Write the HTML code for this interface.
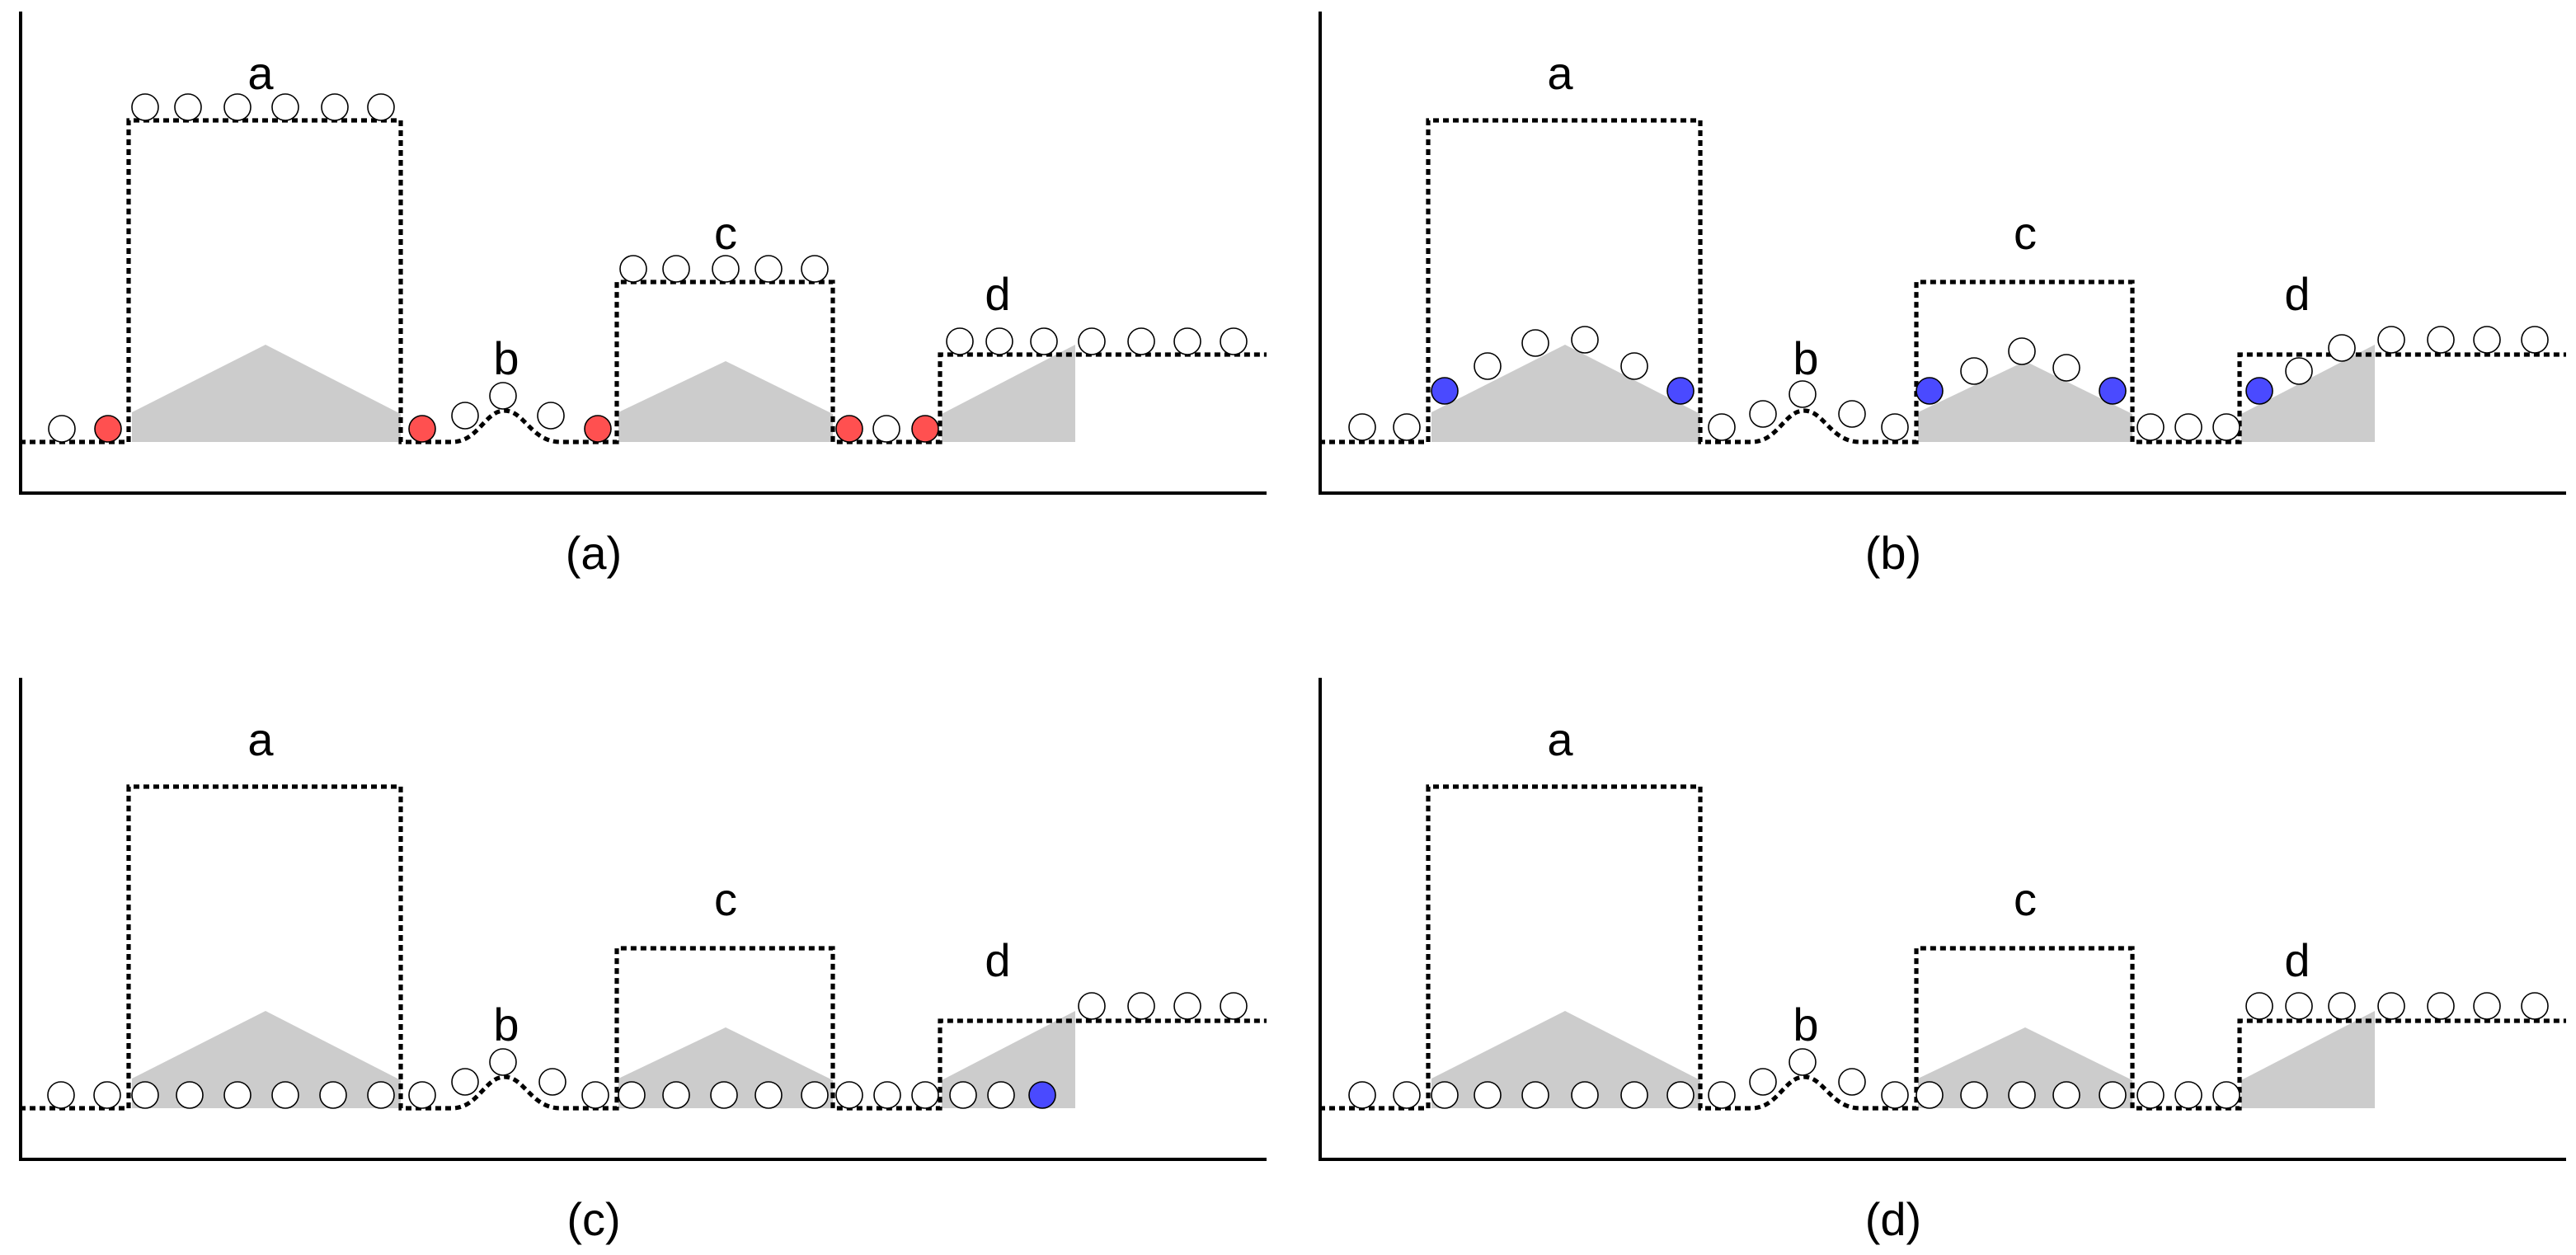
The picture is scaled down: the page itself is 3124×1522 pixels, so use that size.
<!DOCTYPE html>
<html><head><meta charset="utf-8"><style>html,body{margin:0;padding:0;background:#fff}svg{display:block}circle{stroke:#000;stroke-width:0.8}</style></head><body>
<svg width="3124" height="1522" viewBox="0 0 1562 761" xmlns="http://www.w3.org/2000/svg" font-family="Liberation Sans, sans-serif">
<defs>
<g id="base">
<path d="M80,268 L80,250 L161,209 L243,251 L243,268Z M375,268 L375,250 L440,219 L505,251 L505,268Z M571,268 L571,251 L652,209 L652,268Z" fill="#cccccc" stroke="none"/>
<path d="M12.5,7 V299 H768" fill="none" stroke="#000" stroke-width="2"/>
<path d="M12,268 H78 V73 H243 V268 H274 C290,268 294,249 306,249 C318,249 322,268 340,268 H374 V171 H505 V268 H570 V215 H768" fill="none" stroke="#000" stroke-width="2.6" stroke-dasharray="3.5,2.5"/>
<g font-size="28" text-anchor="middle" fill="#000" stroke="none">
<text x="158" y="54">a</text><text x="307" y="227">b</text><text x="440" y="151">c</text><text x="605" y="188">d</text>
</g>
</g>
</defs>
<g fill="#fff">
<g>
<use href="#base"/>
<circle cx="37.5" cy="260" r="8"/><circle cx="65.5" cy="260" r="8" fill="#ff5050"/>
<circle cx="256" cy="260" r="8" fill="#ff5050"/><circle cx="362.5" cy="260" r="8" fill="#ff5050"/>
<circle cx="515" cy="260" r="8" fill="#ff5050"/><circle cx="537.5" cy="260" r="8"/><circle cx="561" cy="260" r="8" fill="#ff5050"/>
<circle cx="282" cy="252" r="8"/><circle cx="305" cy="240" r="8"/><circle cx="334" cy="252" r="8"/>
<circle cx="88" cy="65" r="8"/><circle cx="114" cy="65" r="8"/><circle cx="144" cy="65" r="8"/><circle cx="173" cy="65" r="8"/><circle cx="203" cy="65" r="8"/><circle cx="231" cy="65" r="8"/>
<circle cx="384" cy="163" r="8"/><circle cx="410" cy="163" r="8"/><circle cx="440" cy="163" r="8"/><circle cx="466" cy="163" r="8"/><circle cx="494" cy="163" r="8"/>
<circle cx="582" cy="207" r="8"/><circle cx="606" cy="207" r="8"/><circle cx="633" cy="207" r="8"/><circle cx="662" cy="207" r="8"/><circle cx="692" cy="207" r="8"/><circle cx="720" cy="207" r="8"/><circle cx="748" cy="207" r="8"/>
</g>
<g transform="translate(788,0)">
<use href="#base"/>
<circle cx="38" cy="259" r="8"/><circle cx="65" cy="259" r="8"/>
<circle cx="88" cy="237" r="8" fill="#4a4aff"/><circle cx="114" cy="222" r="8"/><circle cx="143" cy="208" r="8"/><circle cx="173" cy="206" r="8"/><circle cx="203" cy="222" r="8"/><circle cx="231" cy="237" r="8" fill="#4a4aff"/>
<circle cx="256" cy="259" r="8"/><circle cx="281" cy="251" r="8"/><circle cx="305" cy="239" r="8"/><circle cx="335" cy="251" r="8"/><circle cx="361" cy="259" r="8"/>
<circle cx="382" cy="237" r="8" fill="#4a4aff"/><circle cx="409" cy="225" r="8"/><circle cx="438" cy="213" r="8"/><circle cx="465" cy="223" r="8"/><circle cx="493" cy="237" r="8" fill="#4a4aff"/>
<circle cx="516" cy="259" r="8"/><circle cx="539" cy="259" r="8"/><circle cx="562" cy="259" r="8"/>
<circle cx="582" cy="237" r="8" fill="#4a4aff"/><circle cx="606" cy="225" r="8"/><circle cx="632" cy="211" r="8"/><circle cx="662" cy="206" r="8"/><circle cx="692" cy="206" r="8"/><circle cx="720" cy="206" r="8"/><circle cx="749" cy="206" r="8"/>
</g>
<g transform="translate(0,404)">
<use href="#base"/>
<circle cx="37" cy="260" r="8"/><circle cx="65" cy="260" r="8"/><circle cx="88" cy="260" r="8"/><circle cx="115" cy="260" r="8"/><circle cx="144" cy="260" r="8"/><circle cx="173" cy="260" r="8"/><circle cx="202" cy="260" r="8"/><circle cx="231" cy="260" r="8"/><circle cx="256" cy="260" r="8"/>
<circle cx="282" cy="252" r="8"/><circle cx="305" cy="240" r="8"/><circle cx="335" cy="252" r="8"/>
<circle cx="361" cy="260" r="8"/><circle cx="383" cy="260" r="8"/><circle cx="410" cy="260" r="8"/><circle cx="439" cy="260" r="8"/><circle cx="466" cy="260" r="8"/><circle cx="494" cy="260" r="8"/><circle cx="515" cy="260" r="8"/><circle cx="538" cy="260" r="8"/><circle cx="561" cy="260" r="8"/><circle cx="584" cy="260" r="8"/><circle cx="607" cy="260" r="8"/><circle cx="632" cy="260" r="8" fill="#4a4aff"/>
<circle cx="662" cy="206" r="8"/><circle cx="692" cy="206" r="8"/><circle cx="720" cy="206" r="8"/><circle cx="748" cy="206" r="8"/>
</g>
<g transform="translate(788,404)">
<use href="#base"/>
<circle cx="38" cy="260" r="8"/><circle cx="65" cy="260" r="8"/><circle cx="88" cy="260" r="8"/><circle cx="114" cy="260" r="8"/><circle cx="143" cy="260" r="8"/><circle cx="173" cy="260" r="8"/><circle cx="203" cy="260" r="8"/><circle cx="231" cy="260" r="8"/><circle cx="256" cy="260" r="8"/>
<circle cx="281" cy="252" r="8"/><circle cx="305" cy="240" r="8"/><circle cx="335" cy="252" r="8"/>
<circle cx="361" cy="260" r="8"/><circle cx="382" cy="260" r="8"/><circle cx="409" cy="260" r="8"/><circle cx="438" cy="260" r="8"/><circle cx="465" cy="260" r="8"/><circle cx="493" cy="260" r="8"/><circle cx="516" cy="260" r="8"/><circle cx="539" cy="260" r="8"/><circle cx="562" cy="260" r="8"/>
<circle cx="582" cy="206" r="8"/><circle cx="606" cy="206" r="8"/><circle cx="632" cy="206" r="8"/><circle cx="662" cy="206" r="8"/><circle cx="692" cy="206" r="8"/><circle cx="720" cy="206" r="8"/><circle cx="749" cy="206" r="8"/>
</g>
</g>
<g font-size="28" text-anchor="middle" fill="#000">
<text x="360" y="345">(a)</text><text x="1148" y="345">(b)</text>
<text x="360" y="749">(c)</text><text x="1148" y="749">(d)</text>
</g>
</svg>
</body></html>
